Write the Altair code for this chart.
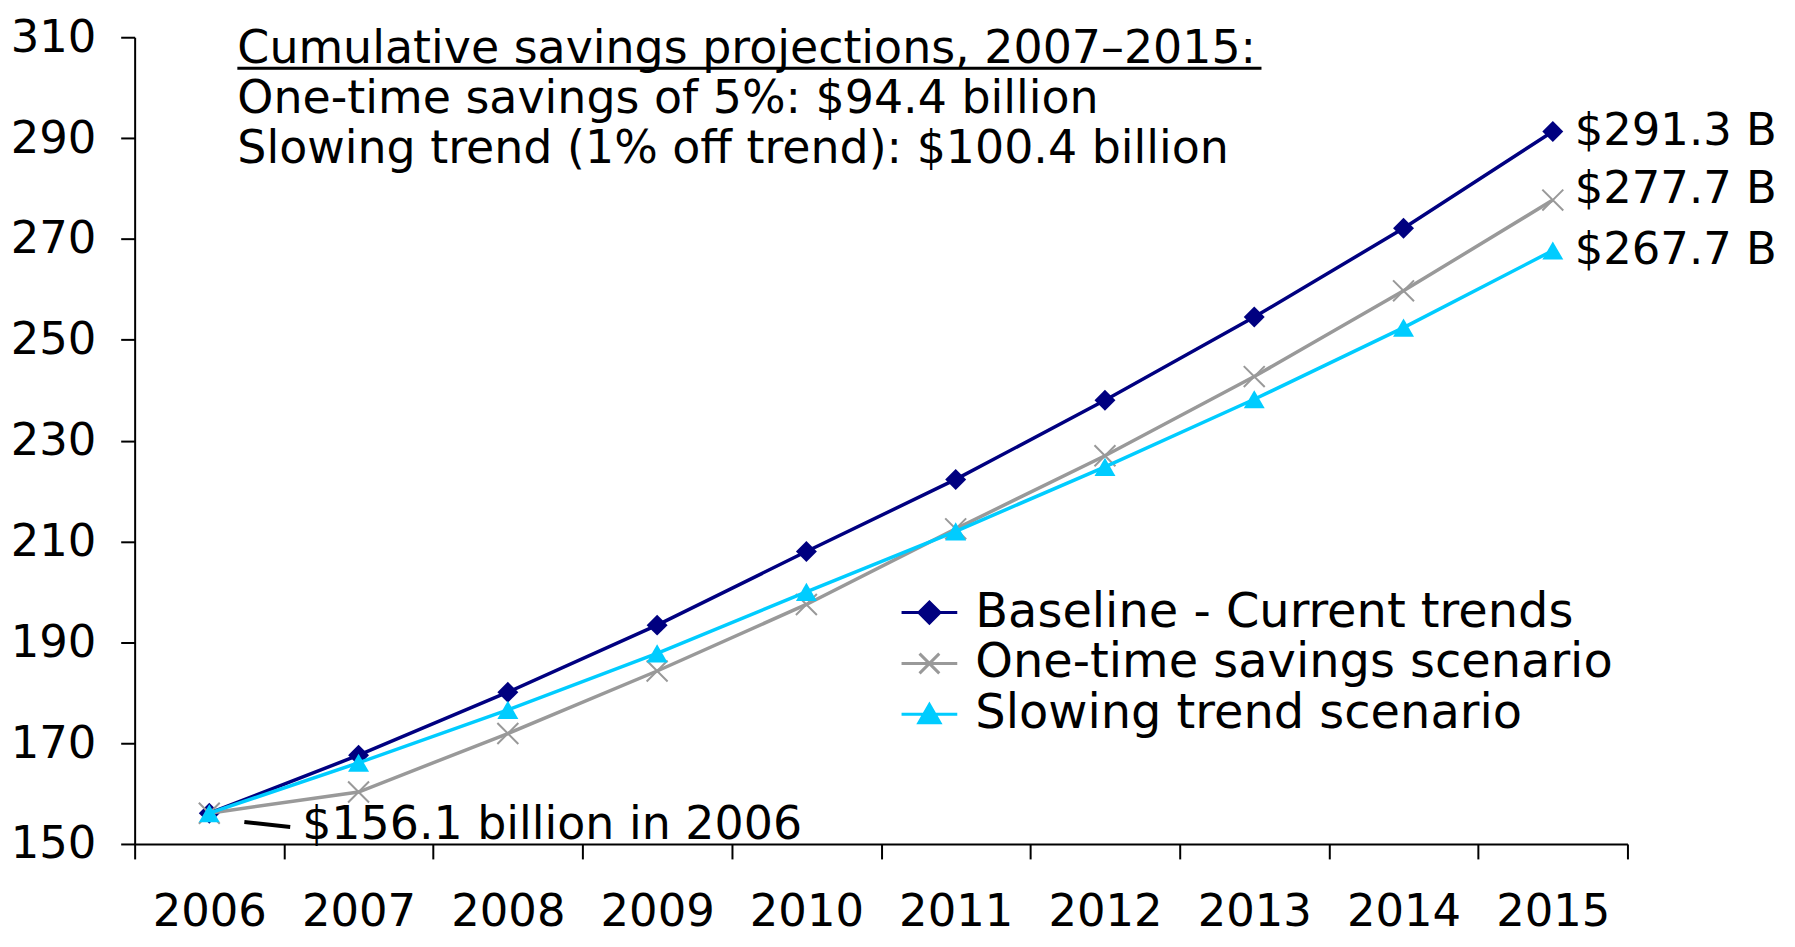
import altair as alt
import pandas as pd

years = ["2006", "2007", "2008", "2009", "2010", "2011", "2012", "2013", "2014", "2015"]
series_names = ["Baseline - Current trends", "One-time savings scenario", "Slowing trend scenario"]
baseline = [156.1, 167.6, 180.1, 193.4, 208.0, 222.3, 238.0, 254.5, 272.1, 291.3]
one_time = [156.1, 160.3, 171.9, 184.3, 197.5, 212.5, 227.0, 242.7, 259.7, 277.7]
slowing = [156.1, 166.1, 176.6, 187.8, 200.0, 212.0, 224.8, 238.2, 252.4, 267.7]
end_labels = ["$291.3 B", "$277.7 B", "$267.7 B"]
y_ticks = [150, 170, 190, 210, 230, 250, 270, 290, 310]
note_lines = [
    "Cumulative savings projections, 2007\u20132015:",
    "One-time savings of 5%: $94.4 billion",
    "Slowing trend (1% off trend): $100.4 billion",
]
start_note = "$156.1 billion in 2006"

colors = ["#000080", "#999999", "#00CCFF"]
FONT = "DejaVu Sans"

rows = []
for name, vals in zip(series_names, [baseline, one_time, slowing]):
    for yr, v in zip(years, vals):
        rows.append({"series": name, "year": yr, "value": v})
df = pd.DataFrame(rows)

ends = pd.DataFrame({
    "series": series_names,
    "year": [years[-1]] * 3,
    "value": [baseline[-1], one_time[-1], slowing[-1]],
    "label": end_labels,
})

x_axis = alt.Axis(title=None, labelAngle=0, labelFont=FONT, labelFontSize=45, labelColor="black",
                  labelPadding=31, tickSize=15, tickColor="black", tickWidth=2,
                  domainColor="black", domainWidth=2, tickBand="extent", grid=False)
y_axis = alt.Axis(title=None, values=y_ticks, labelFont=FONT, labelFontSize=45, labelColor="black",
                  labelPadding=25, tickSize=14, tickColor="black", tickWidth=2,
                  domainColor="black", domainWidth=2, grid=False)

X = alt.X("year:N", sort=years, scale=alt.Scale(paddingInner=0, paddingOuter=0), axis=x_axis)
Y = alt.Y("value:Q", scale=alt.Scale(domain=[150, 310], nice=False, zero=False), axis=y_axis)

base = alt.Chart(df)

shapes = ["diamond", "M-1,-1L1,1M-1,1L1,-1", "triangle-up"]
filled = [True, False, True]
layers = []
for name, col, shp, fl in zip(series_names, colors, shapes, filled):
    sub = base.transform_filter(alt.datum.series == name)
    layers.append(sub.mark_line(color=col, strokeWidth=3.5).encode(x=X, y=Y))
    if fl:
        pts = sub.mark_point(shape=shp, filled=True, color=col, size=441, opacity=1)
    else:
        pts = sub.mark_point(shape=shp, filled=False, color=col, size=441, opacity=1, strokeWidth=2)
    layers.append(pts.encode(x=X, y=Y))

# end-of-line value labels
end_base = alt.Chart(ends)
layers.append(
    end_base.transform_filter(alt.datum.series != series_names[1])
    .mark_text(align="left", baseline="middle", dx=22, font=FONT, fontSize=45, color="black")
    .encode(x=X, y=Y, text="label:N")
)
layers.append(
    end_base.transform_filter(alt.datum.series == series_names[1])
    .mark_text(align="left", baseline="middle", dx=22, dy=-11, font=FONT, fontSize=45, color="black")
    .encode(x=X, y=Y, text="label:N")
)

# annotation block
layers.append(
    alt.Chart(pd.DataFrame({"t": [0]}))
    .mark_text(text=note_lines, align="left", baseline="alphabetic", font=FONT, fontSize=46,
               lineHeight=50, color="black")
    .encode(x=alt.value(103), y=alt.value(26))
)
layers.append(
    alt.Chart(pd.DataFrame({"t": [0]}))
    .mark_rule(color="black", strokeWidth=3)
    .encode(x=alt.value(103), x2=alt.value(1130), y=alt.value(31))
)
layers.append(
    alt.Chart(pd.DataFrame({"t": [0]}))
    .mark_text(text=start_note, align="left", baseline="alphabetic", font=FONT, fontSize=46, color="black")
    .encode(x=alt.value(168), y=alt.value(804))
)
layers.append(
    alt.Chart(pd.DataFrame({"t": [0]}))
    .mark_rule(color="black", strokeWidth=4)
    .encode(x=alt.value(110), x2=alt.value(156), y=alt.value(787), y2=alt.value(792))
)

# legend source (no marks drawn)
r = 1.27
legend_paths = [
    f"M-{r},0H{r}M-0.48,0L0,-0.48L0.48,0L0,0.48Z",
    f"M-{r},0H{r}M-0.45,-0.45L0.45,0.45M-0.45,0.45L0.45,-0.45",
    f"M-{r},0H{r}M0,-0.45L0.48,0.38L-0.48,0.38Z",
]
leg = alt.Legend(title=None, orient="none", legendX=773, legendY=553, padding=0,
                 labelFont=FONT, labelFontSize=48, labelColor="black", labelOffset=22,
                 symbolSize=1936, symbolStrokeWidth=3, symbolOpacity=1, rowPadding=3, labelLimit=1000)
layers.append(
    base.transform_filter("false")
    .mark_point(opacity=1, strokeWidth=3)
    .encode(
        x=X, y=Y,
        fill=alt.Fill("series:N", scale=alt.Scale(domain=series_names, range=colors), legend=leg),
        stroke=alt.Stroke("series:N", scale=alt.Scale(domain=series_names, range=colors), legend=leg),
        shape=alt.Shape("series:N", scale=alt.Scale(domain=series_names, range=legend_paths), legend=leg),
    )
)

chart = alt.layer(*layers).properties(
    width=1497, height=809,
    autosize=alt.AutoSizeParams(type="none"),
    padding={"left": 127, "top": 28, "right": 160, "bottom": 94},
    background="white",
).configure_view(stroke=None)

chart.save("out.html", embed_options={"renderer": "svg", "actions": False})
